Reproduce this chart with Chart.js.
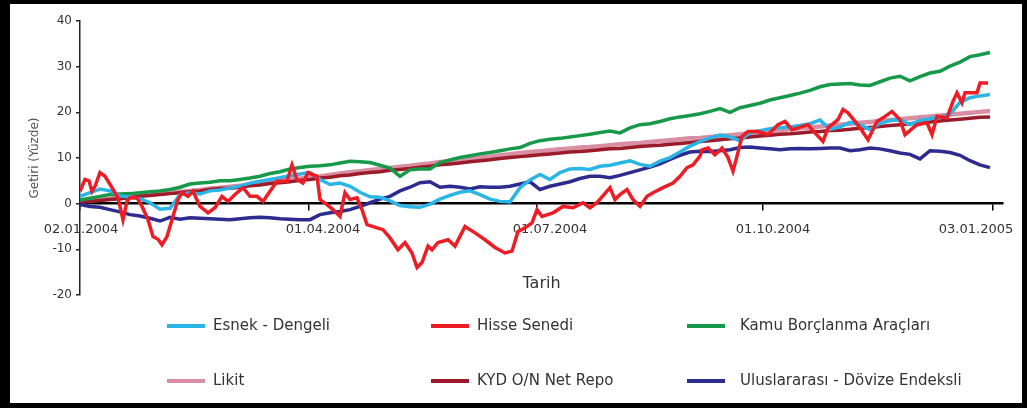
<!DOCTYPE html>
<html>
<head>
<meta charset="utf-8">
<script src="https://cdn.jsdelivr.net/npm/chart.js@4/dist/chart.umd.min.js"></script>
<style>
    html, body { margin: 0; padding: 0; background: #fff; }
    #wrap { position: relative; width: 1027px; height: 408px; }
    #frame {
        position: absolute; left: 0; top: 0; right: 0; bottom: 0;
        box-sizing: border-box; border: solid #000;
        border-width: 4px 5px 5px 10px; pointer-events: none;
    }
</style>
</head>
<body>
<div id="wrap">
    <canvas id="chart"></canvas>
    <div id="frame"></div>
</div>
<script>
// x is a period index, 0 = 02.01.2004
const periods = Array.from({length: 92}, (_, i) => i);

const tickLabels = ['02.01.2004', '01.04.2004', '01.07.2004', '01.10.2004', '03.01.2005'];
const tickMarks = [0, 22.9, 45.7, 68.3, 91.3];
const tickLabelPos = [0.1, 24.3, 47.0, 69.3, 89.6];

const seriesNames = ['Esnek - Dengeli', 'Hisse Senedi', 'Kamu Borçlanma Araçları',
    'Likit', 'KYD O/N Net Repo', 'Uluslararası - Dövize Endeksli'];

const esnek = [
    1.6, 2.4, 3.2, 2.8, 1.7, 1.4, 1.1, 0.2, -1.2, -1.0,
    2.0, 2.4, 2.1, 2.8, 3.0, 3.4, 3.9, 4.5, 4.9, 5.3,
    5.7, 6.1, 6.5, 6.8, 5.3, 4.2, 4.5, 3.8, 2.5, 1.5,
    1.4, 0.6, -0.4, -0.7, -0.8, -0.1, 1.0, 1.8, 2.5, 2.8,
    2.0, 1.0, 0.5, 0.4, 3.5, 5.2, 6.4, 5.3, 6.8, 7.6,
    7.7, 7.5, 8.2, 8.4, 8.9, 9.4, 8.6, 8.2, 9.3, 10.1,
    11.3, 12.6, 13.6, 14.4, 15.0, 14.6, 13.8, 15.6, 16.0, 16.4,
    16.6, 16.8, 17.1, 17.5, 18.3, 16.3, 16.8, 17.8, 17.3, 16.2,
    17.6, 18.2, 18.4, 17.3, 18.2, 18.6, 18.9, 19.6, 22.2, 23.2,
    23.6, 23.9
];

// Hisse Senedi is sampled more finely (own x positions)
const hisseT = [
    0, 0.5, 0.9, 1.2, 1.5, 2, 2.5, 3.2, 3.8, 4.3,
    4.7, 5, 5.7, 6.2, 6.8, 7.3, 7.8, 8.2, 8.7, 9.2,
    9.8, 10.2, 10.8, 11.3, 12, 12.8, 13.5, 14.2, 14.8, 15.5,
    16.3, 17, 17.7, 18.3, 19, 19.7, 20.7, 21.2, 21.7, 22.3,
    22.8, 23.7, 24, 24.7, 25.3, 26, 26.5, 27, 27.7, 28.2,
    28.7, 29.7, 30.3, 31, 31.8, 32.5, 33.2, 33.7, 34.2, 34.8,
    35.2, 35.8, 36.8, 37.5, 38.5, 39.5, 40.5, 41.5, 42.5, 43.2,
    43.8, 44.5, 45.2, 45.7, 46.2, 47.3, 48.3, 49.3, 50.3, 51,
    51.7, 53, 53.5, 54, 54.7, 55.3, 56, 56.7, 57.3, 58.3,
    59.3, 60, 60.7, 61.3, 62, 62.2, 62.8, 63.5, 64.2, 64.8,
    65.3, 65.7, 66.2, 66.8, 67.8, 68.8, 69.8, 70.5, 71.2, 71.8,
    72.8, 73.5, 74.3, 74.8, 75.8, 76.3, 76.8, 77.5, 78, 78.8,
    79.7, 80.3, 81.2, 82, 82.5, 83.7, 84.7, 85.2, 85.7, 86.7,
    87.3, 87.7, 88.2, 88.5, 89.7, 90, 90.8
];
const hisse = [
    2.7, 5.3, 5.0, 2.7, 3.8, 6.8, 6.0, 3.5, 1.3, -3.5,
    0.5, 1.3, 1.3, -0.6, -3.5, -7.2, -7.8, -9.0, -7.2, -3.5,
    0.9, 2.4, 1.6, 2.7, -0.6, -2.0, -0.9, 1.6, 0.5, 2.0,
    3.5, 1.6, 1.6, 0.5, 2.7, 4.9, 4.9, 8.5, 5.3, 4.5,
    6.8, 6.0, 0.9, -0.2, -1.3, -2.8, 2.4, 0.9, 1.3, -1.3,
    -4.6, -5.3, -5.7, -7.5, -10.1, -8.5, -10.8, -14.0, -12.9, -9.3,
    -10.1, -8.5, -7.9, -9.3, -5.0, -6.4, -7.9, -9.6, -10.8, -10.4,
    -6.1, -5.3, -4.2, -1.3, -2.8, -2.0, -0.6, -0.9, 0.2, -0.9,
    0.2, 3.5, 0.9, 2.0, 3.1, 0.9, -0.6, 1.6, 2.4, 3.5,
    4.5, 6.0, 7.9, 8.5, 10.4, 11.8, 12.2, 10.7, 12.2, 10.1,
    7.1, 10.4, 14.7, 15.8, 15.8, 15.1, 17.3, 18.0, 16.2, 16.6,
    17.3, 15.5, 13.6, 16.6, 18.4, 20.6, 19.9, 18.0, 16.6, 14.0,
    18.0, 18.8, 20.2, 18.4, 15.1, 17.3, 17.7, 15.1, 19.1, 18.8,
    22.4, 24.3, 22.1, 24.3, 24.3, 26.4, 26.4
];

const kamu = [
    0.8, 1.2, 1.6, 2.0, 2.1, 2.2, 2.4, 2.6, 2.8, 3.1,
    3.6, 4.3, 4.5, 4.7, 5.0, 5.0, 5.3, 5.6, 6.0, 6.6,
    7.0, 7.6, 7.9, 8.2, 8.3, 8.5, 8.9, 9.3, 9.2, 9.0,
    8.4, 7.8, 6.0, 7.4, 7.6, 7.6, 9.0, 9.6, 10.1, 10.5,
    10.9, 11.2, 11.6, 12.0, 12.3, 13.2, 13.8, 14.1, 14.3, 14.6,
    14.9, 15.2, 15.6, 15.9, 15.5, 16.6, 17.3, 17.5, 18.0, 18.6,
    19.0, 19.3, 19.7, 20.2, 20.8, 20.0, 21.0, 21.5, 22.0, 22.7,
    23.2, 23.7, 24.2, 24.8, 25.6, 26.1, 26.2, 26.3, 26.0, 25.9,
    26.7, 27.5, 27.9, 26.9, 27.8, 28.6, 29.0, 30.1, 31.0, 32.2,
    32.6, 33.1
];

const likit = [
    0.5, 0.7, 0.9, 1.1, 1.4, 1.6, 1.8, 2.0, 2.2, 2.4,
    2.6, 2.8, 3.0, 3.3, 3.5, 3.7, 3.9, 4.2, 4.5, 4.7,
    5.0, 5.3, 5.5, 5.8, 6.0, 6.3, 6.6, 6.9, 7.1, 7.4,
    7.6, 7.8, 8.1, 8.3, 8.6, 8.8, 9.1, 9.3, 9.6, 9.8,
    10.1, 10.3, 10.6, 10.8, 11.1, 11.3, 11.5, 11.7, 11.9, 12.1,
    12.3, 12.4, 12.6, 12.8, 13.0, 13.2, 13.3, 13.5, 13.7, 13.9,
    14.1, 14.3, 14.4, 14.6, 14.8, 15.0, 15.2, 15.4, 15.6, 15.9,
    16.1, 16.3, 16.5, 16.7, 16.9, 17.1, 17.3, 17.5, 17.7, 17.9,
    18.1, 18.3, 18.5, 18.7, 18.9, 19.1, 19.3, 19.5, 19.7, 19.9,
    20.1, 20.3
];

const kydRepo = [
    0.3, 0.5, 0.7, 0.9, 1.1, 1.3, 1.6, 1.8, 2.0, 2.2,
    2.4, 2.6, 2.8, 3.1, 3.3, 3.4, 3.6, 3.9, 4.1, 4.4,
    4.6, 4.8, 5.1, 5.3, 5.6, 5.8, 6.1, 6.3, 6.6, 6.8,
    7.0, 7.3, 7.5, 7.7, 8.0, 8.2, 8.5, 8.7, 8.9, 9.2,
    9.4, 9.6, 9.9, 10.1, 10.3, 10.5, 10.7, 10.9, 11.1, 11.3,
    11.4, 11.6, 11.8, 12.0, 12.1, 12.3, 12.5, 12.7, 12.8, 13.0,
    13.2, 13.4, 13.6, 13.8, 14.0, 14.2, 14.4, 14.6, 14.8, 15.0,
    15.2, 15.3, 15.5, 15.7, 15.8, 16.0, 16.1, 16.3, 16.5, 16.7,
    16.9, 17.1, 17.3, 17.5, 17.7, 17.9, 18.1, 18.3, 18.5, 18.7,
    18.9, 19.0
];

const uluslararasi = [
    -0.2, -0.6, -0.8, -1.3, -1.8, -2.4, -2.7, -3.2, -3.8, -3.0,
    -3.4, -3.1, -3.2, -3.3, -3.4, -3.5, -3.3, -3.1, -3.0, -3.1,
    -3.3, -3.4, -3.5, -3.5, -2.4, -2.0, -1.7, -1.3, -0.6, 0.2,
    1.0, 1.6, 2.8, 3.6, 4.6, 4.8, 3.6, 3.8, 3.6, 3.2,
    3.7, 3.6, 3.6, 3.8, 4.3, 4.8, 3.1, 3.8, 4.3, 4.8,
    5.5, 6.0, 6.0, 5.7, 6.2, 6.8, 7.4, 8.0, 8.7, 9.7,
    10.6, 11.3, 11.5, 11.4, 11.6, 11.8, 12.3, 12.4, 12.2, 12.0,
    11.8, 12.0, 12.1, 12.0, 12.1, 12.2, 12.2, 11.6, 11.8, 12.2,
    12.0, 11.6, 11.1, 10.8, 9.8, 11.6, 11.5, 11.2, 10.6, 9.4,
    8.5, 7.9
];

const colors = ['#2bb5e6', '#ee1c25', '#17994a', '#d98ea3', '#9b1b2a', '#2e2b8e'];

function toPoints(xs, ys) {
    return ys.map((y, i) => ({x: xs[i], y: y}));
}

const seriesData = [
    toPoints(periods, esnek),
    toPoints(hisseT, hisse),
    toPoints(periods, kamu),
    toPoints(periods, likit),
    toPoints(periods, kydRepo),
    toPoints(periods, uluslararasi)
];
const drawOrder = [1, 0, 3, 5, 4, 2];   // lower = drawn on top
const widths = [3.5, 3.5, 3.5, 4.5, 3.5, 3.5];

const datasets = seriesNames.map((name, i) => ({
    label: name,
    data: seriesData[i],
    borderColor: colors[i],
    backgroundColor: colors[i],
    borderWidth: widths[i],
    pointRadius: 0,
    tension: 0,
    order: drawOrder[i]
}));

// legend laid out in a fixed 3x2 grid like the original
const legendGrid = {
    swatchX: [167, 431, 687],
    textX: [213, 477, 740],
    rows: [326, 381],
    swatch: 38
};

const gridLegend = {
    id: 'gridLegend',
    afterDraw(chart) {
        const ctx = chart.ctx;
        ctx.save();
        ctx.font = '15px "DejaVu Sans", sans-serif';
        ctx.textBaseline = 'middle';
        chart.data.datasets.forEach((ds, i) => {
            const col = i % 3;
            const y = legendGrid.rows[Math.floor(i / 3)];
            const x = legendGrid.swatchX[col];
            ctx.strokeStyle = ds.borderColor;
            ctx.lineWidth = 4;
            ctx.beginPath();
            ctx.moveTo(x, y);
            ctx.lineTo(x + legendGrid.swatch, y);
            ctx.stroke();
            ctx.fillStyle = '#333';
            ctx.fillText(ds.label, legendGrid.textX[col], y);
        });
        ctx.restore();
    }
};

const fixedTicks = (values) => (scale) => {
    scale.ticks = values.map(v => ({value: v}));
};

new Chart(document.getElementById('chart'), {
    type: 'line',
    data: {datasets: datasets},
    options: {
        responsive: true,
        maintainAspectRatio: false,
        animation: false,
        devicePixelRatio: 1,
        layout: {padding: {left: 20, right: 24, top: 21, bottom: 113}},
        plugins: {
            legend: {display: false},
            tooltip: {enabled: false}
        },
        scales: {
            x: {
                type: 'linear',
                min: 0,
                max: 92.3,
                position: {y: 0},
                afterBuildTicks: fixedTicks(tickMarks),
                afterFit: (s) => { s.paddingLeft = 0; s.paddingRight = 0; },
                ticks: {display: false},
                grid: {drawOnChartArea: false, tickLength: 6, color: '#000', lineWidth: 1.5},
                border: {color: '#000', width: 2.5}
            },
            x2: {
                type: 'linear',
                axis: 'x',
                min: 0,
                max: 92.3,
                position: {y: 0},
                afterBuildTicks: fixedTicks(tickLabelPos),
                afterFit: (s) => { s.paddingLeft = 0; s.paddingRight = 0; },
                ticks: {
                    autoSkip: false,
                    maxRotation: 0,
                    minRotation: 0,
                    padding: 18,
                    color: '#333',
                    font: {family: 'DejaVu Sans', size: 13},
                    callback: (v, i) => tickLabels[i]
                },
                grid: {display: false, drawTicks: false},
                border: {display: false},
                title: {
                    display: true,
                    text: 'Tarih',
                    color: '#333',
                    font: {family: 'DejaVu Sans', size: 16},
                    padding: {top: 19, bottom: 0}
                }
            },
            y: {
                min: -20,
                max: 40,
                afterFit: (s) => { s.width = 60; },
                ticks: {
                    stepSize: 10,
                    padding: 4,
                    color: '#333',
                    font: {family: 'DejaVu Sans', size: 12}
                },
                grid: {drawOnChartArea: false, tickLength: 4, color: '#222', lineWidth: 1.5},
                border: {color: '#222', width: 1.5},
                title: {
                    display: true,
                    text: 'Getiri (Yüzde)',
                    color: '#555',
                    font: {family: 'DejaVu Sans', size: 12},
                    padding: {top: 8, bottom: 0}
                }
            }
        }
    },
    plugins: [gridLegend]
});
</script>
</body>
</html>
